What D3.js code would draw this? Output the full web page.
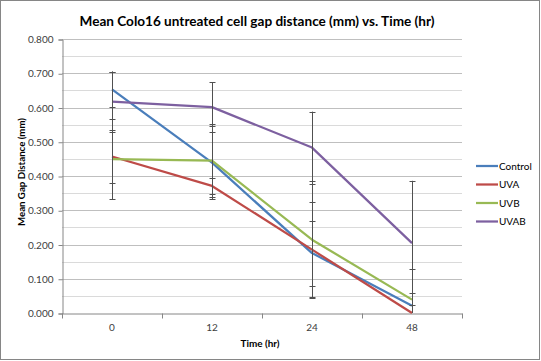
<!DOCTYPE html>
<html>
<head>
<meta charset="utf-8">
<script src="https://cdn.jsdelivr.net/npm/d3@7"></script>
<style>
  html, body { margin: 0; padding: 0; background: #fff; }
  svg { display: block; }
  text { font-family: Lato, "Open Sans", sans-serif; }
</style>
</head>
<body>
<svg id="chart" width="541" height="361"></svg>
<script>
// ---- data ----
const categories = ["0", "12", "24", "48"];
const seriesNames = ["Control", "UVA", "UVB", "UVAB"];
const controlValues = [0.653, 0.439, 0.175, 0.021];
const uvaValues     = [0.457, 0.371, 0.185, 0.000];
const uvbValues     = [0.449, 0.445, 0.214, 0.039];
const uvabValues    = [0.617, 0.601, 0.483, 0.204];
const controlErr = [0.052, 0.107, 0.095, 0.037];
const uvaErr     = [0.076, 0.023, 0.138, 0.000];
const uvbErr     = [0.117, 0.107, 0.170, 0.089];
const uvabErr    = [0.088, 0.072, 0.105, 0.182];
const yTicks = [0, 0.1, 0.2, 0.3, 0.4, 0.5, 0.6, 0.7, 0.8];
const yMinorTicks = [0.05, 0.15, 0.25, 0.35, 0.45, 0.55, 0.65, 0.75];
const titleText = "Mean Colo16 untreated cell gap distance (mm) vs. Time (hr)";
const xTitle = "Time (hr)";
const yTitle = "Mean Gap Distance (mm)";

const colors = ["#4A7EBB", "#BE4B48", "#98B954", "#7D60A0"];
const allValues = [controlValues, uvaValues, uvbValues, uvabValues];
const allErr = [controlErr, uvaErr, uvbErr, uvabErr];

(function () {
const svg = d3.select("#chart");

// border
svg.append("rect").attr("x", 0.5).attr("y", 0.5).attr("width", 539).attr("height", 359)
  .attr("fill", "#fff").attr("stroke", "#868686").attr("stroke-width", 1);

const pLeft = 62, pRight = 462, pTop = 39, pBottom = 313;
const x = d3.scaleBand().domain(categories).range([pLeft, pRight]).padding(0);
const y = d3.scaleLinear().domain([0, 0.8]).range([pBottom, pTop]);
const cx = c => x(c) + x.bandwidth() / 2;

// gridlines
svg.append("g").selectAll("line").data(yMinorTicks).join("line")
  .attr("x1", pLeft).attr("x2", pRight)
  .attr("y1", d => Math.round(y(d)) + 0.5).attr("y2", d => Math.round(y(d)) + 0.5)
  .attr("stroke", "#DADADA").attr("stroke-width", 1);
svg.append("g").selectAll("line").data(yTicks.filter(d => d > 0)).join("line")
  .attr("x1", pLeft).attr("x2", pRight)
  .attr("y1", d => Math.round(y(d)) + 0.5).attr("y2", d => Math.round(y(d)) + 0.5)
  .attr("stroke", "#BFBFBF").attr("stroke-width", 1);

// y axis
const yAxis = d3.axisLeft(y).tickValues(yTicks).tickFormat(d3.format(".3f")).tickSize(4).tickPadding(5);
const gy = svg.append("g").attr("transform", `translate(${pLeft + 0.5},0.5)`).call(yAxis);
gy.select(".domain").attr("stroke", "#868686");
gy.selectAll(".tick line").attr("stroke", "#868686");
gy.selectAll(".tick text").attr("font-size", 10).attr("fill", "#404040")
  .attr("font-family", "Lato, 'Open Sans', sans-serif");

// x axis
const xAxis = d3.axisBottom(x).tickSize(0).tickPadding(10);
const gx = svg.append("g").attr("transform", `translate(0,${pBottom + 0.5})`).call(xAxis);
gx.select(".domain").attr("stroke", "#868686");
gx.selectAll(".tick text").attr("font-size", 10).attr("fill", "#404040")
  .attr("font-family", "Lato, 'Open Sans', sans-serif");
const bounds = categories.map(c => x(c)).concat([x(categories[categories.length - 1]) + x.bandwidth()]);
gx.selectAll(".bt").data(bounds).join("line").attr("class", "bt")
  .attr("x1", d => Math.round(d) + 0.5).attr("x2", d => Math.round(d) + 0.5)
  .attr("y1", 0).attr("y2", 5).attr("stroke", "#868686");

// lines
const line = d3.line().x((d, i) => cx(categories[i])).y(d => y(d));
allValues.forEach((vals, s) => {
  svg.append("path").datum(vals).attr("d", line)
    .attr("fill", "none").attr("stroke", colors[s]).attr("stroke-width", 2.25)
    .attr("stroke-linejoin", "round").attr("stroke-linecap", "butt");
});

// error bars
const eb = svg.append("g").attr("stroke", "#505050").attr("stroke-width", 1);
allValues.forEach((vals, s) => {
  vals.forEach((v, i) => {
    const e = allErr[s][i];
    if (e <= 0) return;
    const px = Math.round(cx(categories[i])) + 0.5;
    const hi = v + e, lo = Math.max(0, v - e);
    eb.append("line").attr("x1", px).attr("x2", px).attr("y1", y(hi)).attr("y2", y(lo));
    eb.append("line").attr("x1", px - 3).attr("x2", px + 3).attr("y1", Math.round(y(hi)) + 0.5).attr("y2", Math.round(y(hi)) + 0.5);
    if (v - e >= 0) {
      eb.append("line").attr("x1", px - 3).attr("x2", px + 3).attr("y1", Math.round(y(lo)) + 0.5).attr("y2", Math.round(y(lo)) + 0.5);
    }
  });
});

// title
svg.append("text").attr("x", 257).attr("y", 26).attr("text-anchor", "middle")
  .attr("font-size", 14).attr("font-weight", "bold").attr("fill", "#000")
  .attr("textLength", 355).attr("lengthAdjust", "spacingAndGlyphs")
  .text(titleText);

// axis titles
svg.append("text").attr("x", 260).attr("y", 347).attr("text-anchor", "middle")
  .attr("font-size", 10).attr("font-weight", "bold").attr("fill", "#000")
  .attr("textLength", 39).attr("lengthAdjust", "spacingAndGlyphs")
  .text(xTitle);
svg.append("text").attr("transform", "translate(25,172) rotate(-90)").attr("text-anchor", "middle")
  .attr("font-size", 10).attr("font-weight", "bold").attr("fill", "#000")
  .attr("textLength", 108).attr("lengthAdjust", "spacingAndGlyphs")
  .text(yTitle);

// legend
const lg = svg.append("g");
seriesNames.forEach((name, s) => {
  const ly = 166 + s * 18.5;
  lg.append("line").attr("x1", 476).attr("x2", 498).attr("y1", ly).attr("y2", ly)
    .attr("stroke", colors[s]).attr("stroke-width", 2.25);
  lg.append("text").attr("x", 499).attr("y", ly).attr("dy", "0.35em")
    .attr("font-size", 10).attr("fill", "#000").text(name);
});
})();
</script>
</body>
</html>
